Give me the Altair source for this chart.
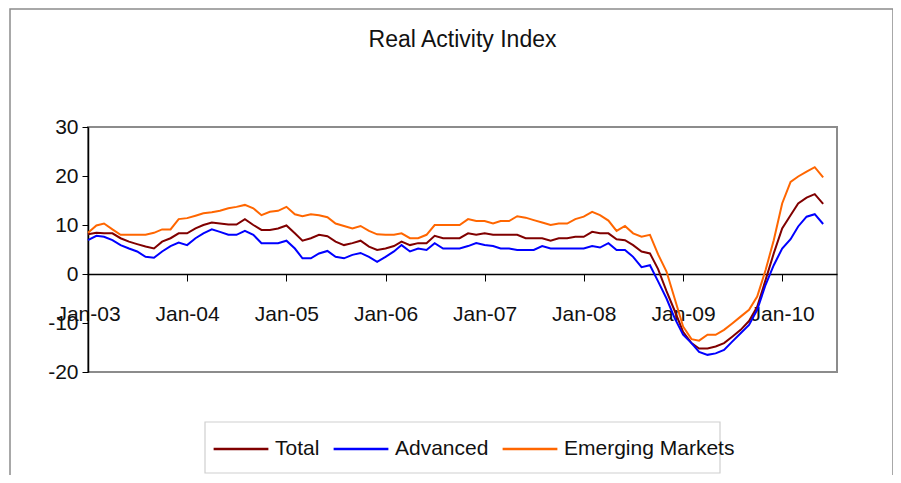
import altair as alt
import pandas as pd

months = pd.date_range("2003-01-01", periods=90, freq="MS")

total = [8.1, 8.4, 8.3, 8.3, 7.3, 6.6, 6.1, 5.6, 5.2, 6.6, 7.3, 8.3,
         8.3, 9.3, 10.0, 10.5, 10.3, 10.1, 10.1, 11.2, 10.0, 9.0, 9.0, 9.3,
         9.9, 8.3, 6.8, 7.3, 8.0, 7.7, 6.6, 5.9, 6.3, 6.8, 5.6, 4.9,
         5.2, 5.7, 6.6, 5.9, 6.3, 6.3, 7.8, 7.3, 7.3, 7.3, 8.3, 8.0,
         8.3, 8.0, 8.0, 8.0, 8.0, 7.3, 7.3, 7.3, 6.8, 7.3, 7.3, 7.6,
         7.6, 8.6, 8.3, 8.3, 7.1, 6.9, 5.9, 4.6, 4.2, 1.0, -3.5, -7.5,
         -11.8, -14.1, -15.2, -15.2, -14.8, -14.1, -12.8, -11.4, -9.6, -6.7, -1.2, 4.2,
         9.3, 12.0, 14.4, 15.6, 16.3, 14.3]

advanced = [6.9, 7.8, 7.6, 6.9, 5.9, 5.2, 4.6, 3.5, 3.3, 4.6, 5.7, 6.4,
            5.9, 7.3, 8.3, 9.1, 8.6, 8.0, 8.0, 8.8, 8.0, 6.3, 6.3, 6.3,
            6.8, 5.2, 3.2, 3.2, 4.2, 4.7, 3.5, 3.2, 3.9, 4.3, 3.5, 2.5,
            3.5, 4.6, 5.9, 4.6, 5.2, 4.9, 6.3, 5.2, 5.2, 5.2, 5.7, 6.3,
            5.9, 5.7, 5.2, 5.2, 4.9, 4.9, 4.9, 5.7, 5.2, 5.2, 5.2, 5.2,
            5.2, 5.7, 5.4, 6.3, 4.9, 4.9, 3.5, 1.4, 1.8, -1.5, -5.0, -9.0,
            -12.4, -14.1, -15.9, -16.5, -16.2, -15.5, -13.8, -12.1, -10.4, -7.3, -2.2, 1.8,
            5.2, 7.1, 9.7, 11.7, 12.2, 10.2]

emerging = [8.4, 9.9, 10.3, 9.1, 8.0, 8.0, 8.0, 8.0, 8.4, 9.1, 9.1, 11.2,
            11.4, 11.9, 12.4, 12.6, 12.9, 13.4, 13.7, 14.1, 13.4, 12.0, 12.7, 12.9,
            13.7, 12.2, 11.8, 12.2, 12.0, 11.6, 10.3, 9.8, 9.3, 9.8, 8.8, 8.1,
            8.0, 8.0, 8.3, 7.3, 7.3, 8.0, 10.0, 10.0, 10.0, 10.0, 11.2, 10.8,
            10.8, 10.3, 10.8, 10.8, 11.8, 11.5, 11.0, 10.5, 10.0, 10.3, 10.3, 11.2,
            11.7, 12.7, 12.0, 10.9, 8.8, 9.8, 8.3, 7.6, 8.0, 4.0, 0.5, -5.0,
            -10.7, -13.3, -13.6, -12.4, -12.4, -11.4, -10.1, -8.7, -7.3, -4.6, 0.8, 6.9,
            14.4, 18.8, 19.9, 20.9, 21.8, 19.7]

series_names = ["Total", "Advanced", "Emerging Markets"]
series_colors = ["#800000", "#0000FF", "#FF6600"]
y_ticks = [-20, -10, 0, 10, 20, 30]
tick_years = list(range(2003, 2011))

rows = []
for name, vals in zip(series_names, [total, advanced, emerging]):
    for d, v in zip(months, vals):
        rows.append({"date": d, "value": v, "series": name})
df = pd.DataFrame(rows)

FONT = "Liberation Sans, Arial"
FS = 21

W, H = 749, 245

one = pd.DataFrame({"a": [0]})

frame = alt.Chart(one).mark_rect(
    fill=None, stroke="#8c8c8c", strokeWidth=1.5
).encode(
    x=alt.value(-78), x2=alt.value(805), y=alt.value(-118), y2=alt.value(380)
)

legend_box = alt.Chart(one).mark_rect(
    fill="white", stroke="#cfcfcf", strokeWidth=1.2
).encode(
    x=alt.value(117), x2=alt.value(632), y=alt.value(295), y2=alt.value(346)
)

lines = alt.Chart(df).mark_line(strokeWidth=2).encode(
    x=alt.X(
        "date:T",
        scale=alt.Scale(domain=[alt.DateTime(year=2003, month=1, date=1),
                                alt.DateTime(year=2010, month=7, date=22)]),
        axis=alt.Axis(
            values=[alt.DateTime(year=y, month=1, date=1) for y in tick_years],
            format="%b-%y", title=None, grid=False, offset=-98,
            domainColor="black", domainWidth=1.5, tickColor="black",
            tickSize=7, labelFontSize=FS, labelFont=FONT, labelColor="#111",
            labelPadding=22, labelFlush=False, labelOverlap=False,
        ),
    ),
    y=alt.Y(
        "value:Q",
        scale=alt.Scale(domain=[-20, 30], nice=False, zero=False),
        axis=alt.Axis(
            values=y_ticks, title=None, grid=False, domainColor="black",
            domainWidth=1.5, tickColor="black", tickSize=6,
            labelExpr="'' + datum.value",
            labelFontSize=FS, labelFont=FONT, labelColor="#111", labelPadding=4,
        ),
    ),
    color=alt.Color(
        "series:N",
        scale=alt.Scale(domain=series_names, range=series_colors),
        sort=series_names,
        legend=alt.Legend(
            orient="none", legendX=124, legendY=293, direction="horizontal",
            title=None, symbolType="stroke", symbolSize=3000,
            symbolStrokeWidth=2.5, labelFont=FONT, labelFontSize=FS,
            labelColor="#111", padding=0,
            columnPadding=8, labelOffset=5, labelLimit=400,
        ),
    ),
    order=alt.Order("date:T"),
)

chart = alt.layer(frame, legend_box, lines).properties(
    width=W, height=H,
    title=alt.TitleParams("Real Activity Index", font=FONT, fontSize=23,
                          fontWeight="normal", color="#111", anchor="middle",
                          offset=-44),
    padding={"left": 80, "top": 119, "right": 56, "bottom": 103},
    autosize=alt.AutoSizeParams(type="none"),
).configure_view(stroke="#8c8c8c", strokeWidth=2)

chart.save("out.html", embed_options={"renderer": "svg", "actions": False})
